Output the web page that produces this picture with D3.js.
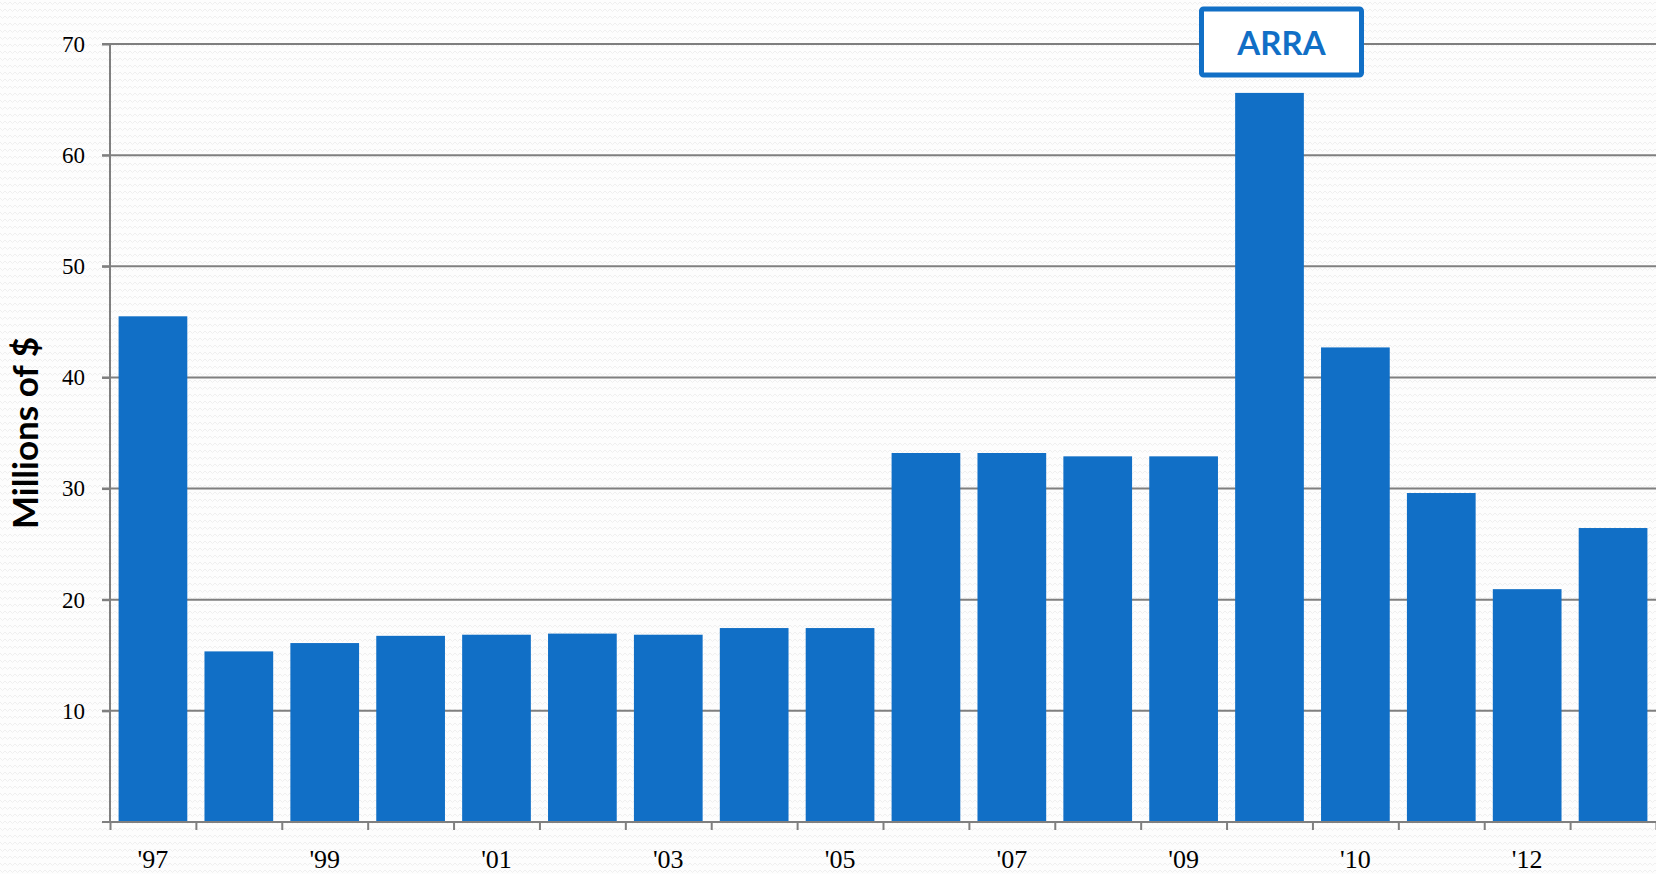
<!doctype html>
<html>
<head>
<meta charset="utf-8">
<title>Millions of $</title>
<style>
* {padding:0;margin:0}
body {background:#fcfcfc; overflow:hidden}
</style>
</head>
<body>
<div id="chart"></div>
<script src="https://d3js.org/d3.v7.min.js"></script>
<script>

	// years on the axis, ARRA is the extra 2009 bar
	const years = ["'97","'98","'99","'00","'01","'02","'03","'04","'05","'06","'07","'08","'09","ARRA","'10","'11","'12","'13"];
	const values = [45.5, 15.35, 16.1, 16.75, 16.85, 16.95, 16.85, 17.45, 17.45, 33.2, 33.2, 32.9, 32.9, 65.6, 42.7, 29.6, 20.95, 26.45];
	const yTicks = [10, 20, 30, 40, 50, 60, 70];
	const yTitle = "Millions of $";
	const note = "ARRA";

	const W = 1656, H = 874;
	const margin = {top: 44, right: 0, bottom: 52, left: 110};
	const width = W - margin.left - margin.right;
	const height = H - margin.top - margin.bottom;

	const blue = "#116fc6";
	const grey = "#7f7f7f";

	const svg = d3.select("#chart").append("svg")
		.attr("width", W)
		.attr("height", H);

	// faint zigzag paper texture
	const pat = svg.append("defs").append("pattern")
		.attr("id", "zz")
		.attr("width", 10)
		.attr("height", 7)
		.attr("patternUnits", "userSpaceOnUse");
	pat.append("rect").attr("width", 10).attr("height", 7).attr("fill", "#fdfdfd");
	pat.append("path")
		.attr("d", "M0,2 L2.5,4.5 L5,2 L7.5,4.5 L10,2")
		.attr("fill", "none")
		.attr("stroke", "#efefef")
		.attr("stroke-width", 1);
	svg.append("rect").attr("width", W).attr("height", H).attr("fill", "url(#zz)");

	const g = svg.append("g")
		.attr("transform", "translate(" + margin.left + "," + margin.top + ")");

	const x = d3.scaleBand().domain(years).range([0, width]).paddingInner(0.2).paddingOuter(0.1);
	const xEdge = d3.scaleLinear().domain([0, years.length]).range([0, width]);
	const y = d3.scaleLinear().domain([0, 70]).range([height, 0]);

	// gridlines
	g.selectAll(".grid").data(yTicks).enter()
		.append("line")
		.attr("class", "grid")
		.attr("x1", -8)
		.attr("x2", width)
		.attr("y1", d => y(d))
		.attr("y2", d => y(d))
		.attr("stroke", grey)
		.attr("stroke-width", 2);

	// y axis
	const yAxis = g.append("g")
		.call(d3.axisLeft(y).tickValues(yTicks).tickSize(8).tickPadding(17).tickFormat(d3.format("d")));
	yAxis.select(".domain").remove();
	yAxis.selectAll("line").attr("stroke", grey).attr("stroke-width", 2);
	yAxis.selectAll("text")
		.attr("fill", "#000")
		.style("font-family", "'Liberation Serif', 'DejaVu Serif', serif")
		.style("font-size", "23px");
	g.append("line")
		.attr("x1", 0).attr("x2", 0)
		.attr("y1", 0).attr("y2", height)
		.attr("stroke", grey).attr("stroke-width", 2);

	// bars
	g.selectAll(".bar").data(values).enter()
		.append("rect")
		.attr("class", "bar")
		.attr("x", (d, i) => x(years[i]))
		.attr("width", x.bandwidth())
		.attr("y", d => y(d))
		.attr("height", d => height - y(d))
		.attr("fill", blue);

	// x axis: tick marks on category edges
	const xTickAxis = g.append("g")
		.attr("transform", "translate(0," + height + ")")
		.call(d3.axisBottom(xEdge).tickValues(d3.range(years.length + 1)).tickSize(8).tickFormat(""));
	xTickAxis.select(".domain").remove();
	xTickAxis.selectAll("line").attr("stroke", grey).attr("stroke-width", 2);
	g.append("line")
		.attr("x1", -8).attr("x2", width)
		.attr("y1", height).attr("y2", height)
		.attr("stroke", grey).attr("stroke-width", 2);

	// x labels, every other year
	const xLab = g.append("g")
		.attr("transform", "translate(0," + height + ")")
		.call(d3.axisBottom(x).tickSize(0).tickPadding(0)
			.tickFormat((d, i) => i % 2 == 0 ? d : ""));
	xLab.select(".domain").remove();
	xLab.selectAll("text")
		.attr("fill", "#000")
		.attr("y", 46)
		.attr("dy", 0)
		.style("font-family", "'Liberation Serif', 'DejaVu Serif', serif")
		.style("font-size", "26px");

	// y title
	svg.append("text")
		.attr("transform", "translate(38," + (margin.top + height / 2) + ") rotate(-90)")
		.attr("text-anchor", "middle")
		.style("font-family", "Lato, 'Liberation Sans', sans-serif")
		.style("font-weight", "bold")
		.style("font-size", "35px")
		.attr("fill", "#000")
		.text(yTitle);

	// ARRA callout above its bar
	const cx = x("ARRA") + x.bandwidth() / 2 + 12;
	const box = g.append("g").attr("transform", "translate(" + cx + "," + (y(70) - 2) + ")");
	box.append("rect")
		.attr("x", -80)
		.attr("y", -33)
		.attr("width", 160)
		.attr("height", 66)
		.attr("rx", 2)
		.attr("fill", "#fff")
		.attr("stroke", blue)
		.attr("stroke-width", 5);
	box.append("text")
		.attr("text-anchor", "middle")
		.attr("y", 13)
		.style("font-family", "Lato, 'Liberation Sans', sans-serif")
		.style("font-weight", "bold")
		.style("font-size", "33px")
		.attr("fill", blue)
		.text(note);

</script>
</body>
</html>
